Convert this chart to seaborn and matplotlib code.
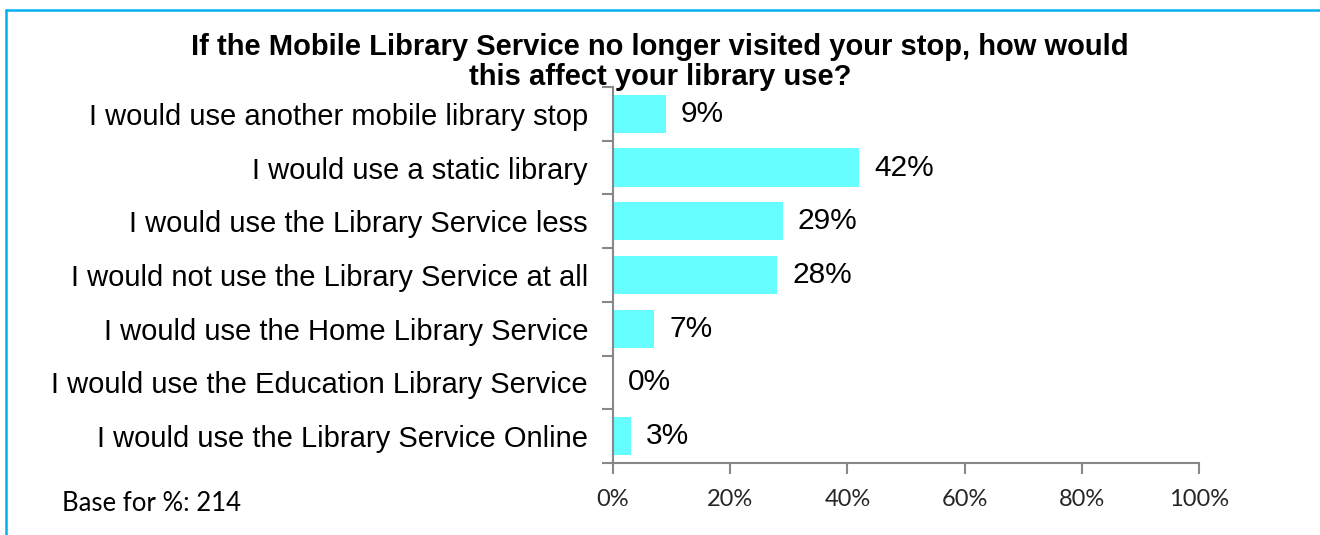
import matplotlib
matplotlib.use("Agg")
import matplotlib.pyplot as plt
import seaborn as sns
import pandas as pd
from matplotlib.lines import Line2D
from matplotlib.ticker import FuncFormatter

categories = [
    "I would use another mobile library stop",
    "I would use a static library",
    "I would use the Library Service less",
    "I would not use the Library Service at all",
    "I would use the Home Library Service",
    "I would use the Education Library Service",
    "I would use the Library Service Online",
]
values = [9, 42, 29, 28, 7, 0, 3]
value_labels = ["9%", "42%", "29%", "28%", "7%", "0%", "3%"]
xticks = [0, 20, 40, 60, 80, 100]
title_lines = ["If the Mobile Library Service no longer visited your stop, how would",
               "this affect your library use?"]
base_note = "Base for %: 214"

sns.set_theme(style="white")
plt.rcParams['font.family'] = ['Liberation Sans', 'DejaVu Sans']

df = pd.DataFrame({"category": categories, "value": values})

fig = plt.figure(figsize=(13.2, 5.35), dpi=100)
ax = fig.add_axes([0.4644, 0.1346, 0.4439, 0.7028])

sns.barplot(data=df, y="category", x="value", orient="h", color="#66FFFF",
            saturation=1, width=0.71, ax=ax, edgecolor="none")

ax.set_xlim(0, 100)
ax.set_ylim(len(categories) - 0.5, -0.5)
ax.set_xticks(xticks)
ax.xaxis.set_major_formatter(FuncFormatter(lambda v, p: f"{int(v)}%"))
ax.set_xlabel("")
ax.set_ylabel("")

for lab in ax.get_xticklabels():
    lab.set_fontfamily(['Lato', 'DejaVu Sans'])
    lab.set_fontsize(17)
ax.tick_params(axis="x", length=8, width=1.5, color="#888888", pad=11, bottom=True, direction="out")

ax.set_yticks(range(len(categories)))
ax.set_yticklabels(categories, fontsize=21, color="black")
ax.tick_params(axis="y", length=0, pad=18)
ax.set_yticks([i + 0.5 for i in range(-1, len(categories))], minor=True)
ax.tick_params(axis="y", which="minor", length=8, width=1.5, color="#888888", left=True, direction="out")

for s in ["top", "right"]:
    ax.spines[s].set_visible(False)
for s in ["left", "bottom"]:
    ax.spines[s].set_color("#888888")
    ax.spines[s].set_linewidth(1.5)

for i, (v, t) in enumerate(zip(values, value_labels)):
    ax.annotate(t, xy=(v, i), xytext=(15, 0), textcoords="offset pixels",
                va="center", ha="left", fontsize=21.5, color="black")

fig.text(0.5, 1 - 55 / 535, title_lines[0], ha="center", va="baseline", fontsize=21,
         fontweight="bold", color="black")
fig.text(0.5, 1 - 85 / 535, title_lines[1], ha="center", va="baseline", fontsize=21,
         fontweight="bold", color="black")
fig.text(62 / 1320, 1 - 503.5 / 535, base_note, ha="left", va="center", fontsize=18.5,
         family=['Lato', 'DejaVu Sans'], color="black")

fig.add_artist(Line2D([6 / 1320, 1.0], [1 - 9.5 / 535, 1 - 9.5 / 535], color="#00B0F0", lw=1.8,
                      transform=fig.transFigure))
fig.add_artist(Line2D([6.5 / 1320, 6.5 / 1320], [1 - 9.5 / 535, 0.0], color="#00B0F0", lw=1.8,
                      transform=fig.transFigure))

fig.savefig("out.png", dpi=100)
